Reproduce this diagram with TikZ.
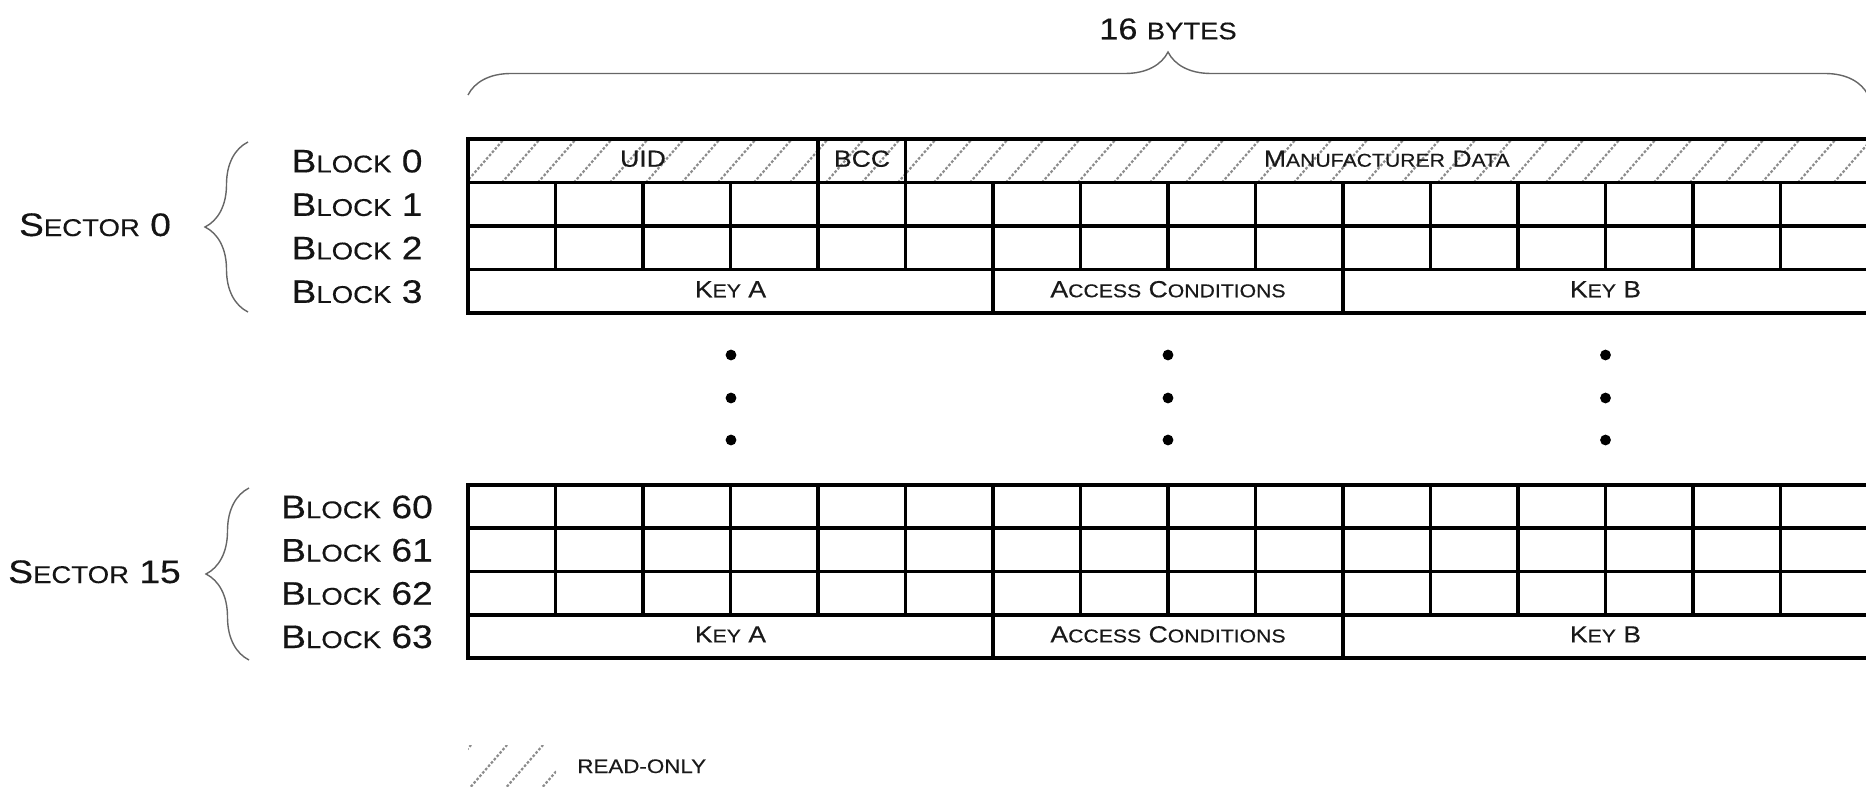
\documentclass[tikz,border=0pt]{standalone}
\usepackage{fontspec}
\setmainfont{Liberation Sans}[FakeStretch=1.14, FakeBold=0.35]
\usetikzlibrary{decorations.pathreplacing}
\newcommand\labBig{\fontsize{16.3}{18}\selectfont}
\newcommand\labSmall{\fontsize{12.1}{14}\selectfont}
\newcommand\celBig{\fontsize{11.65}{13}\selectfont}
\newcommand\celSmall{\fontsize{9.3}{11}\selectfont}
\newcommand\topBig{\fontsize{15}{17}\selectfont}
\newcommand\topSmall{\fontsize{12}{14}\selectfont}
\newcommand\legFont{\fontsize{9.8}{11}\selectfont}
\tikzset{
  gridline/.style={line width=1.8pt, black},
  hatchline/.style={line width=1.1pt, black!45, dash pattern=on 1.3pt off 0.9pt},
  bracestyle/.style={decorate, decoration={brace, amplitude=21.5pt}, line width=0.7pt, black!60},
  lab/.style={font=\labBig, text=black!92, inner sep=0pt, anchor=base},
  cell/.style={font=\celBig, text=black!90, inner sep=0pt, anchor=base},
  dotnode/.style={circle, fill=black, inner sep=0pt, minimum size=5.4pt},
}
\begin{document}
\begin{tikzpicture}[x=0.5pt, y=-0.5pt]
\useasboundingbox (0,0) rectangle (1866,786);

% ---------- hatch of block 0 ----------
\begin{scope}
  \clip (468,139) rectangle (1868,182.5);
  \foreach \i in {0,...,41} {
    \draw[hatchline] ({430+\i*36},182.5) -- ++(38,-43.5);
  }
\end{scope}

% ---------- legend hatch ----------
\begin{scope}
  \clip (468,745) rectangle (556,790);
  \foreach \i in {0,...,3} {
    \draw[hatchline] ({432+\i*36},790) -- ++(39,-45);
  }
\end{scope}

% ---------- sector 0 grid ----------
\draw[gridline] (468,139) rectangle (1868,313);
\foreach \yy in {182.5,226,269.5} \draw[gridline] (468,\yy) -- (1868,\yy);
\foreach \xx in {818,905.5} \draw[gridline] (\xx,139) -- (\xx,182.5);
\foreach \k in {1,...,15} \draw[gridline] ({468+87.5*\k},182.5) -- ({468+87.5*\k},269.5);
\foreach \xx in {993,1343} \draw[gridline] (\xx,269.5) -- (\xx,313);

% ---------- sector 15 grid ----------
\draw[gridline] (468,485) rectangle (1868,658);
\foreach \yy in {528.25,571.5,614.75} \draw[gridline] (468,\yy) -- (1868,\yy);
\foreach \k in {1,...,15} \draw[gridline] ({468+87.5*\k},485) -- ({468+87.5*\k},614.75);
\foreach \xx in {993,1343} \draw[gridline] (\xx,614.75) -- (\xx,658);

% ---------- cell texts ----------
\node[cell] (uid) at (643,166.75) {UID};
\node[cell] (bcc) at (862,166.75) {BCC};
\node[cell] (mfr) at (1386.75,166.75) {M{\celSmall ANUFACTURER} D{\celSmall ATA}};
\node[cell] (keya0) at (730.5,297.25) {K{\celSmall EY} A};
\node[cell] (acc0) at (1168,297.25) {A{\celSmall CCESS} C{\celSmall ONDITIONS}};
\node[cell] (keyb0) at (1605.5,297.25) {K{\celSmall EY} B};
\node[cell] (keya15) at (730.5,642.4) {K{\celSmall EY} A};
\node[cell] (acc15) at (1168,642.4) {A{\celSmall CCESS} C{\celSmall ONDITIONS}};
\node[cell] (keyb15) at (1605.5,642.4) {K{\celSmall EY} B};

% ---------- block labels ----------
\node[lab] (bl0) at (357,172.4) {B{\labSmall LOCK} 0};
\node[lab] (bl1) at (357,215.9) {B{\labSmall LOCK} 1};
\node[lab] (bl2) at (357,259.4) {B{\labSmall LOCK} 2};
\node[lab] (bl3) at (357,302.9) {B{\labSmall LOCK} 3};
\node[lab] (bl60) at (357,518.2) {B{\labSmall LOCK} 60};
\node[lab] (bl61) at (357,561.5) {B{\labSmall LOCK} 61};
\node[lab] (bl62) at (357,604.7) {B{\labSmall LOCK} 62};
\node[lab] (bl63) at (357,648) {B{\labSmall LOCK} 63};

% ---------- sector labels ----------
\node[lab] (sec0) at (95,236) {S{\labSmall ECTOR} 0};
\node[lab] (sec15) at (94.5,583) {S{\labSmall ECTOR} 15};

% ---------- braces ----------
\coordinate (s0top) at (248,142);
\coordinate (s0bot) at (248,312);
\coordinate (s15top) at (249,488);
\coordinate (s15bot) at (249,660);
\coordinate (bl) at (468,95);
\coordinate (br) at (1868,95);
\draw[bracestyle] (s0bot) -- (s0top);
\draw[bracestyle] (s15bot) -- (s15top);
\draw[bracestyle] (bl) -- (br);

\node[font=\topBig, text=black!92, inner sep=0pt, anchor=base] (bytes) at (1168,39.3) {16 {\topSmall BYTES}};

% ---------- dots ----------
\foreach \xx/\n in {731/a,1168/b,1605.5/c} {
  \node[dotnode] (dot\n1) at (\xx,355) {};
  \node[dotnode] (dot\n2) at (\xx,398) {};
  \node[dotnode] (dot\n3) at (\xx,440) {};
}

% ---------- legend ----------
\node[font=\legFont, text=black!90, inner sep=0pt, anchor=base west] (ro) at (577,773) {READ-ONLY};
\end{tikzpicture}
\end{document}
